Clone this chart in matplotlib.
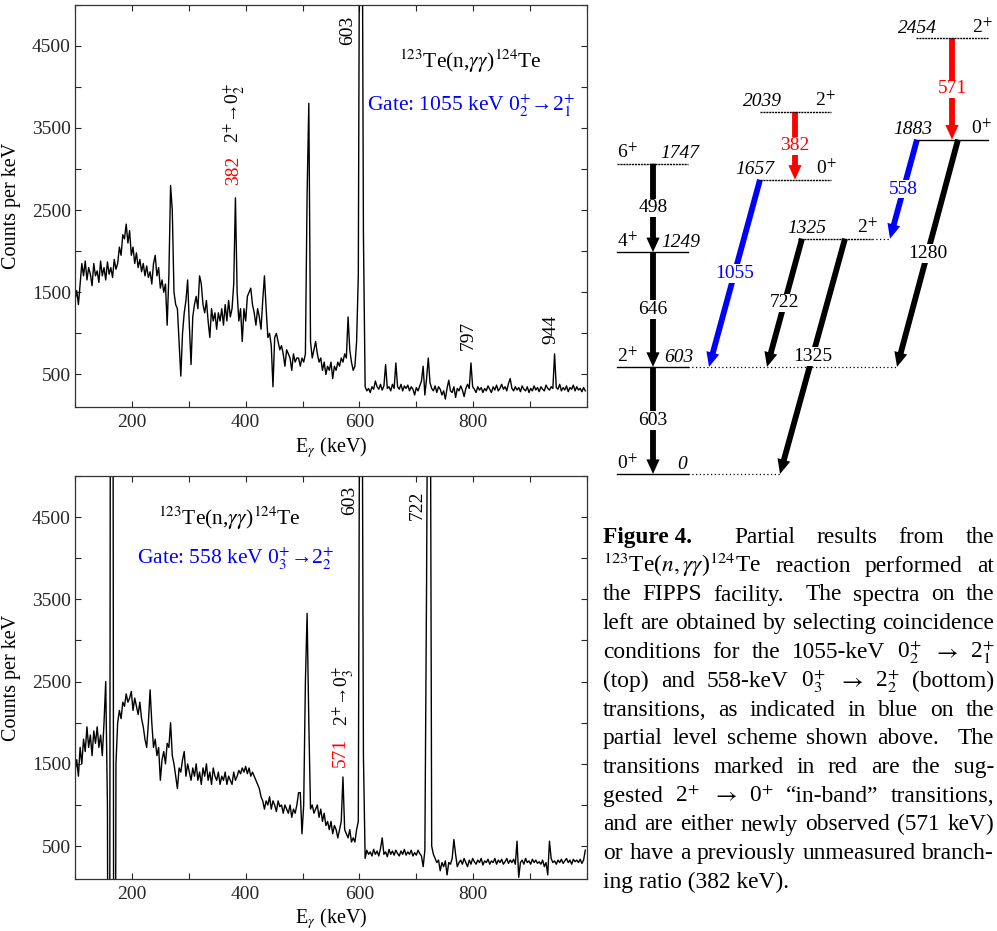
import numpy as np
import matplotlib
matplotlib.use("Agg")
import matplotlib.pyplot as plt
from matplotlib.patches import FancyArrowPatch

plt.rcParams['font.family'] = ['Liberation Serif', 'DejaVu Serif']
plt.rcParams['mathtext.fontset'] = 'stix'

# ---------------- data ----------------
# gated spectra, 3-keV channels starting at 100 keV (counts per keV)
top_counts = [
    1400, 1520, 1350, 1600, 1850, 1700, 1880, 1650, 1800, 1720,   # 100
    1580, 1850, 1700, 1760, 1620, 1880, 1700, 1800, 1650, 1870,   # 130
    1720, 1800, 1680, 1900, 1780, 1850, 2050, 1950, 2200, 2150,   # 160
    2330, 2100, 2250, 1950, 2050, 1850, 1980, 1800, 1900, 1750,   # 190
    1850, 1700, 1820, 1680, 1750, 1600, 1850, 1950, 1700, 1800,   # 220
    1550, 1650, 1500, 1600, 1100, 1700, 2800, 2500, 1500, 1350,   # 250
    1300, 900, 480, 1000, 1250, 1400, 1650, 1100, 620, 1200,      # 280
    1350, 1450, 1300, 1700, 1600, 1350, 1250, 1400, 1150, 950,    # 310
    1300, 1150, 1250, 1050, 1250, 1150, 1300, 1100, 1350, 1150,   # 340
    1400, 1200, 1300, 1600, 2650, 1500, 1150, 1300, 900, 1300,    # 370
    1150, 1450, 1500, 1550, 1350, 1250, 1100, 1300, 1200, 1050,   # 400
    1400, 1700, 1300, 950, 1000, 850, 350, 950, 1000, 900,        # 430
    800, 850, 750, 600, 800, 750, 700, 550, 750, 650,             # 460
    700, 700, 600, 700, 650, 750, 2700, 3800, 900, 700,           # 490
    800, 900, 750, 650, 700, 550, 650, 500, 600, 550,             # 520
    650, 450, 600, 550, 650, 600, 700, 650, 750, 700,             # 550
    1200, 800, 650, 550, 600, 900, 1700, 8000, 8000, 2200,        # 580
    350, 300, 330, 280, 350, 320, 420, 350, 320, 380,             # 610
    310, 360, 620, 330, 350, 300, 380, 330, 640, 350,             # 640
    320, 380, 300, 360, 330, 370, 300, 350, 320, 250,             # 670
    340, 300, 360, 420, 600, 250, 450, 700, 400, 330,             # 700
    300, 360, 280, 350, 320, 250, 300, 200, 330, 430,             # 730
    300, 280, 350, 220, 330, 300, 360, 310, 230, 330,             # 760
    380, 330, 640, 350, 320, 280, 350, 310, 340, 280,             # 790
    330, 300, 360, 320, 280, 350, 310, 370, 300, 330,             # 820
    380, 320, 350, 300, 390, 450, 330, 300, 350, 310,             # 850
    340, 290, 360, 320, 300, 350, 280, 330, 300, 360,             # 880
    310, 340, 290, 350, 320, 300, 370, 330, 310, 350,             # 910
    330, 750, 340, 320, 380, 300, 340, 310, 360, 290,             # 940
    340, 320, 370, 300, 350, 310, 330, 290, 340, 300,             # 970
]

bottom_counts = [
    1400, 1550, 1350, 1700, 1500, 1800, 1650, 1950, 1700, 1850,   # 100
    1600, 1900, 1750, 1950, 1700, 1850, 1600, 2000, 2500, 1000,   # 130
    -8000, 12000, 12000, -8000, 1500, 2000, 2150, 2050, 2250, 2200,  # 160
    2350, 2250, 2300, 2380, 2150, 2300, 2200, 2100, 2250, 2050,   # 190
    1950, 1800, 1700, 2000, 2400, 2000, 1700, 1800, 1600, 1700,   # 220
    1300, 1550, 1650, 1500, 1750, 1700, 2000, 1600, 1500, 1350,   # 250
    1200, 1450, 1400, 1550, 1650, 1350, 1500, 1400, 1300, 1450,   # 280
    1350, 1500, 1300, 1400, 1250, 1450, 1350, 1500, 1300, 1400,   # 310
    1250, 1450, 1350, 1300, 1400, 1250, 1350, 1300, 1400, 1250,   # 340
    1350, 1300, 1250, 1400, 1300, 1350, 1420, 1380, 1450, 1400,   # 370
    1470, 1380, 1450, 1350, 1400, 1350, 1300, 1250, 1200, 1100,   # 400
    1050, 950, 1050, 1000, 1100, 950, 1050, 1000, 920, 1050,      # 430
    980, 1000, 900, 1000, 950, 900, 1000, 850, 950, 900,          # 460
    1000, 1150, 1150, 650, 1000, 2500, 3330, 2000, 950, 1000,     # 490
    900, 950, 1000, 850, 950, 800, 900, 750, 800, 700,            # 520
    800, 650, 750, 700, 600, 700, 800, 1340, 700, 650,            # 550
    600, 700, 550, 600, 550, 700, 800, 8000, 8000, 1600,          # 580
    350, 450, 400, 430, 380, 460, 400, 440, 380, 470,             # 610
    600, 400, 430, 370, 460, 400, 440, 390, 450, 410,             # 640
    380, 440, 400, 460, 390, 430, 400, 450, 380, 420,             # 670
    390, 450, 410, 380, 250, 450, 3700, 8000, 8000, 500,          # 700
    400, 350, 300, 330, 200, 300, 250, 320, 150, 300,             # 730
    280, 350, 580, 400, 250, 300, 330, 280, 350, 300,             # 760
    250, 330, 280, 350, 310, 280, 330, 300, 350, 270,             # 790
    320, 300, 340, 280, 320, 300, 350, 280, 330, 300,             # 820
    340, 280, 310, 350, 290, 330, 300, 340, 280, 560,             # 850
    120, 300, 330, 280, 350, 300, 320, 280, 340, 300,             # 880
    330, 290, 310, 280, 330, 250, 300, 150, 560, 350,             # 910
    300, 320, 280, 330, 300, 340, 290, 320, 350, 300,             # 940
    330, 280, 340, 310, 330, 300, 340, 290, 330, 450,             # 970
]

x_ticks = [100, 200, 300, 400, 500, 600, 700, 800, 900, 1000]
x_labels = ['', '200', '', '400', '', '600', '', '800', '', '']
y_ticks = [500, 1000, 1500, 2000, 2500, 3000, 3500, 4000, 4500, 5000]
y_labels = ['500', '', '1500', '', '2500', '', '3500', '', '4500', '']

# level scheme: (energy keV, spin label)
level_energy = [0, 603, 1249, 1747, 1657, 2039, 1325, 1883, 2454]
level_spin = ['0$^{+}$', '2$^{+}$', '4$^{+}$', '6$^{+}$', '0$^{+}$', '2$^{+}$',
              '2$^{+}$', '0$^{+}$', '2$^{+}$']
# transitions: (E_initial, E_final, label)
trans_from = [1747, 1249, 603, 1657, 2039, 1325, 1325, 2454, 1883, 1883]
trans_to = [1249, 603, 0, 603, 1657, 603, 0, 1883, 1325, 603]
trans_label = ['498', '646', '603', '1055', '382', '722', '1325', '571', '558', '1280']

# ---------------- figure ----------------
W, H = 997, 931
fig = plt.figure(figsize=(W / 100, H / 100), dpi=100)


def fx(px):
    return px / W


def fy(py):
    return 1 - py / H


def spectrum_axes(top_px, bottom_px, counts):
    ax = fig.add_axes([fx(75), fy(bottom_px), fx(587) - fx(75), fy(top_px) - fy(bottom_px)])
    e = np.arange(100, 100 + 3 * len(counts), 3)
    ax.plot(e, counts, color='black', lw=1.0)
    ax.set_xlim(100, 1000)
    ax.set_ylim(100, 5000)
    ax.set_xticks(x_ticks)
    ax.set_xticklabels(x_labels)
    ax.set_yticks(y_ticks)
    ax.set_yticklabels(y_labels)
    ax.tick_params(direction='in', length=4, width=0.8, top=True, right=True,
                   labelsize=14, colors='0.15')
    ax.tick_params(axis='x', pad=5)
    ax.tick_params(axis='y', pad=3)
    for s in ax.spines.values():
        s.set_linewidth(0.9)
        s.set_color('0.2')
    ax.set_ylabel('Counts per keV', fontsize=14.5)
    ax.yaxis.set_label_coords(-0.105, 0.5)
    ax.set_xlabel(r'E$_{\gamma}$ (keV)', fontsize=14.5)
    ax.xaxis.set_label_coords(0.5, -0.068)
    return ax


ax1 = spectrum_axes(4.7, 407.3, top_counts)
ax2 = spectrum_axes(476, 879, bottom_counts)

fs = 14
fsb = 15.5
rx = r'$^{123}$Te(n,$\gamma\gamma$)$^{124}$Te'
ax1.text(580, 4683, '603', rotation=90, ha='center', va='center', fontsize=fs)
ax1.text(378, 2990, '382', rotation=90, ha='center', va='center', fontsize=fs, color='red')
ax1.text(379, 3680, '2$^{+}$→0$_{2}^{+}$', rotation=90, ha='center', va='center', fontsize=fs)
ax1.text(792, 978, '797', rotation=90, ha='center', va='center', fontsize=fs)
ax1.text(937, 1047, '944', rotation=90, ha='center', va='center', fontsize=fs)
ax1.text(794, 4314, rx, ha='center', va='center', fontsize=fsb)
ax1.text(796, 3768, 'Gate: 1055 keV 0$_{2}^{+}$→2$_{1}^{+}$', ha='center', va='center',
         fontsize=fsb, color='blue')

ax2.text(371, 4490, rx, ha='center', va='center', fontsize=fsb)
ax2.text(382, 3994, 'Gate: 558 keV 0$_{3}^{+}$→2$_{2}^{+}$', ha='center', va='center',
         fontsize=fsb, color='blue')
ax2.text(583, 4700, '603', rotation=90, ha='center', va='center', fontsize=fs)
ax2.text(702, 4640, '722', rotation=90, ha='center', va='center', fontsize=fs)
ax2.text(571, 2334, '2$^{+}$→0$_{3}^{+}$', rotation=90, ha='center', va='center', fontsize=fs)
ax2.text(567, 1634, '571', rotation=90, ha='center', va='center', fontsize=fs, color='red')

# ---------------- level scheme ----------------
k = 0.1776  # px per keV
axl = fig.add_axes([fx(600), fy(480), fx(997) - fx(600), fy(0) - fy(480)])
axl.set_xlim(0, 397)
axl.set_ylim(-6 / k, 474 / k)
axl.axis('off')

lvl_x0 = [17, 17, 17, 17, 160, 160, 198, 318, 316]
lvl_x1 = [88, 88, 88, 88, 231, 231, 272, 388, 388]
lvl_dash = [False, False, False, True, True, True, True, False, True]
lvl_left_col = [True, True, True, True, False, False, False, False, False]
lfs = 14
for E, sp, x0, x1, dsh, leftcol in zip(level_energy, level_spin, lvl_x0, lvl_x1,
                                       lvl_dash, lvl_left_col):
    axl.plot([x0, x1], [E, E], color='black', lw=1.0,
             ls=(0, (1.5, 0.6)) if dsh else '-')
    if leftcol:
        axl.annotate(sp, (x0, E), xytext=(0, 1), textcoords='offset points',
                     ha='left', va='bottom', fontsize=lfs)
        xr = {0: 87, 603: 93, 1249: 100, 1747: 99}[E]
        axl.annotate(str(E), (xr, E), xytext=(0, 1), textcoords='offset points',
                     ha='right', va='bottom', fontsize=lfs, style='italic')
    else:
        xl = {1657: 135, 2039: 143, 1325: 187, 1883: 293, 2454: 298}[E]
        xr = {1657: 237, 2039: 236, 1325: 278, 1883: 392, 2454: 393}[E]
        axl.annotate(str(E), (xl, E), xytext=(0, 1), textcoords='offset points',
                     ha='left', va='bottom', fontsize=lfs, style='italic')
        axl.annotate(sp, (xr, E), xytext=(0, 1), textcoords='offset points',
                     ha='right', va='bottom', fontsize=lfs)

axl.plot([88, 297], [603, 603], color='black', lw=0.9, ls=(0, (1, 2)))
axl.plot([88, 180], [0, 0], color='black', lw=0.9, ls=(0, (1, 2)))
axl.plot([272, 290], [1325, 1325], color='black', lw=0.9, ls=(0, (1, 2)))

tr_xa = [53, 53, 53, 160, 195, 202, 245, 352, 317, 358]
tr_xb = [53, 53, 53, 109, 195, 167, 180, 352, 290, 297]
tr_col = ['black', 'black', 'black', 'blue', 'red', 'black', 'black', 'red', 'blue', 'black']
for Ea, Eb, xa, xb, lab, c in zip(trans_from, trans_to, tr_xa, tr_xb, trans_label, tr_col):
    arr = FancyArrowPatch((xa, Ea), (xb, Eb),
                          arrowstyle='simple,head_length=1.05,head_width=0.95,tail_width=0.42',
                          mutation_scale=10, shrinkA=0, shrinkB=0, color=c, lw=0)
    axl.add_patch(arr)
    axl.text((xa + xb) / 2, (Ea + Eb) / 2, lab, ha='center', va='center', fontsize=14,
             color=c, bbox=dict(facecolor='white', edgecolor='none', pad=0.5), zorder=5)

# ---------------- caption (justified) ----------------
renderer = fig.canvas.get_renderer()


def text_width(s, size, weight='normal'):
    t = fig.text(0, 0, s, fontsize=size, fontweight=weight)
    w = t.get_window_extent(renderer).width
    t.remove()
    return w


caption = [
    [('Figure 4.', 'bold'), 'Partial', 'results', 'from', 'the'],
    [r'$^{123}$Te($n,\gamma\gamma$)$^{124}$Te', 'reaction', 'performed', 'at'],
    ['the', 'FIPPS', 'facility.', 'The', 'spectra', 'on', 'the'],
    ['left', 'are', 'obtained', 'by', 'selecting', 'coincidence'],
    ['conditions', 'for', 'the', '1055-keV', r'0$^{+}_{2}$', r'$\rightarrow$', r'2$^{+}_{1}$'],
    ['(top)', 'and', '558-keV', r'0$^{+}_{3}$', r'$\rightarrow$', r'2$^{+}_{2}$', '(bottom)'],
    ['transitions,', 'as', 'indicated', 'in', 'blue', 'on', 'the'],
    ['partial', 'level', 'scheme', 'shown', 'above.', 'The'],
    ['transitions', 'marked', 'in', 'red', 'are', 'the', 'sug-'],
    ['gested', r'2$^{+}$', r'$\rightarrow$', r'0$^{+}$', '\u201cin-band\u201d', 'transitions,'],
    ['and', 'are', 'either', 'newly', 'observed', '(571', 'keV)'],
    ['or', 'have', 'a', 'previously', 'unmeasured', 'branch-'],
    'ing ratio (382 keV).',
]

X0, X1 = 603, 994
base = 16.0
nat = text_width('left are obtained by selecting coincidence', base)
cfs = base * (X1 - X0 - 3) / nat

for i, line in enumerate(caption):
    ypx = 543 + 28.75 * i
    if isinstance(line, str):
        fig.text(fx(X0), fy(ypx), line, fontsize=cfs, ha='left', va='baseline')
        continue
    toks = [(t, 'normal') if isinstance(t, str) else t for t in line]
    widths = [text_width(t, cfs, w) for t, w in toks]
    weights = [2.0 if t.endswith('.') else 1.0 for t, w in toks[:-1]]
    gap_unit = (X1 - X0 - sum(widths)) / sum(weights)
    x = X0
    for j, ((t, w), wd) in enumerate(zip(toks, widths)):
        fig.text(fx(x), fy(ypx), t, fontsize=cfs, fontweight=w, ha='left', va='baseline')
        if j < len(weights):
            x += wd + gap_unit * weights[j]

fig.savefig('out.png', dpi=100)
